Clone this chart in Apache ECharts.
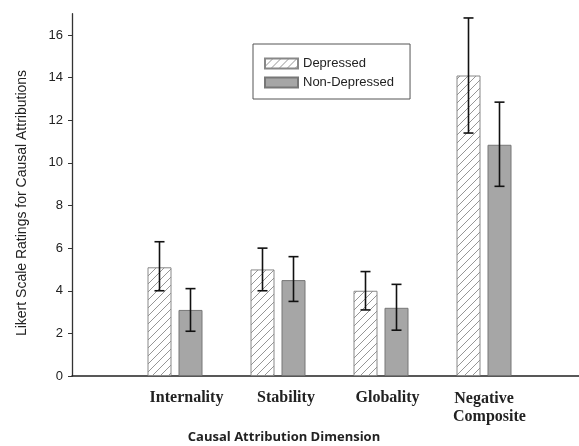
<!DOCTYPE html>
<html><head><meta charset="utf-8">
<script src="https://cdn.jsdelivr.net/npm/echarts@6/dist/echarts.min.js"></script>
<style>html,body{margin:0;padding:0;background:#fff}#c{width:579px;height:446px}</style>
</head><body><div id="c"></div>
<script>
var categories = ['Internality', 'Stability', 'Globality', 'Negative\nComposite'];
var depressed = [5.1, 5.0, 4.0, 14.1];
var depressedHigh = [6.3, 6.0, 4.9, 16.8];
var depressedLow = [4.0, 4.0, 3.1, 11.4];
var nonDepressed = [3.1, 4.5, 3.2, 10.85];
var nonDepressedHigh = [4.1, 5.6, 4.3, 12.85];
var nonDepressedLow = [2.1, 3.5, 2.15, 8.9];
var yTicks = [0, 2, 4, 6, 8, 10, 12, 14, 16];

var BAR_W = 24, GAP = 7;
var slots = [''].concat(categories).concat(['']);
function pad(arr) { return [null].concat(arr).concat([null]); }

// hatch pattern
var pc = document.createElement('canvas');
pc.width = 8; pc.height = 8;
var ctx = pc.getContext('2d');
ctx.fillStyle = '#fff'; ctx.fillRect(0, 0, 8, 8);
ctx.strokeStyle = '#8a8a8a'; ctx.lineWidth = 0.9;
ctx.beginPath();
ctx.moveTo(0, 8); ctx.lineTo(8, 0);
ctx.moveTo(-4, 4); ctx.lineTo(4, -4);
ctx.moveTo(4, 12); ctx.lineTo(12, 4);
ctx.stroke();

function errData(lo, hi) {
  return lo.map(function (v, i) { return [i + 1, v, hi[i]]; });
}
function errSeries(lo, hi, off) {
  return {
    type: 'custom', silent: true, z: 5,
    encode: { x: 0, y: [1, 2] },
    data: errData(lo, hi),
    renderItem: function (params, api) {
      var a = api.coord([api.value(0), api.value(1)]);
      var b = api.coord([api.value(0), api.value(2)]);
      var x = a[0] + off, cw = 5;
      var st = { stroke: '#111', lineWidth: 1.6 };
      return { type: 'group', children: [
        { type: 'line', shape: { x1: x, y1: a[1], x2: x, y2: b[1] }, style: st },
        { type: 'line', shape: { x1: x - cw, y1: a[1], x2: x + cw, y2: a[1] }, style: st },
        { type: 'line', shape: { x1: x - cw, y1: b[1], x2: x + cw, y2: b[1] }, style: st }
      ]};
    }
  };
}
var off = (BAR_W + GAP) / 2;
var labelPad = { 'Internality': 'a', 'Stability': 'b', 'Globality': 'c' };
var serifBold = { fontFamily: 'Liberation Serif', fontWeight: 'bold', fontSize: 16, color: '#222' };
function rs(p, extra) { return Object.assign({ padding: p }, serifBold, extra || {}); }

var chart = echarts.init(document.getElementById('c'));
chart.setOption({
  animation: false,
  grid: { left: 72, width: 515, top: 13.7, bottom: 70, outerBoundsMode: 'none', containLabel: false },
  legend: {
    orient: 'vertical', left: 253, top: 44,
    padding: [13, 16, 10, 11], itemGap: 6,
    itemWidth: 33, itemHeight: 10,
    borderColor: '#555', borderWidth: 1,
    icon: 'rect',
    textStyle: { fontFamily: 'Liberation Sans, Arial', fontSize: 13, color: '#222' },
    data: ['Depressed', 'Non-Depressed']
  },
  xAxis: {
    type: 'category', boundaryGap: false, data: slots,
    axisTick: { show: false },
    axisLine: { lineStyle: { color: '#222', width: 1.5 } },
    axisLabel: {
      interval: 0, margin: 14, color: '#222',
      fontFamily: 'Liberation Serif', fontWeight: 'bold', fontSize: 16,
      formatter: function (v) {
        if (!v) return '';
        if (v.indexOf('\n') >= 0) {
          var p = v.split('\n');
          return '{n|' + p[0] + '}\n{m|' + p[1] + '}';
        }
        return '{' + labelPad[v] + '|' + v + '}';
      },
      rich: {
        a: rs([0, 0, 0, 23]),
        b: rs([0, 0, 0, 16]),
        c: rs([0, 0, 0, 13]),
        n: rs([0, 0, 0, 0], { lineHeight: 18 }),
        m: rs([0, 0, 0, 11], { lineHeight: 18 })
      }
    }
  },
  yAxis: {
    type: 'value', min: 0, max: 17,
    splitLine: { show: false },
    axisLine: { show: true, lineStyle: { color: '#333', width: 1.3 } },
    axisTick: { show: true, length: 4, customValues: yTicks, lineStyle: { color: '#333' } },
    axisLabel: { customValues: yTicks, margin: 9, color: '#222', fontFamily: 'Liberation Sans, Arial', fontSize: 13 }
  },
  graphic: [
    { type: 'text', x: 22, y: 203, rotation: Math.PI / 2,
      style: { text: 'Likert Scale Ratings for Causal Attributions', fill: '#222',
        font: '14px "Liberation Sans", Arial', textAlign: 'center', textVerticalAlign: 'middle' } },
    { type: 'text', x: 284, y: 437,
      style: { text: 'Causal Attribution Dimension', fill: '#222',
        font: 'bold 13px "Open Sans"', textAlign: 'center', textVerticalAlign: 'middle' } }
  ],
  series: [
    { name: 'Depressed', type: 'bar', barWidth: BAR_W, barGap: (GAP / BAR_W * 100) + '%',
      data: pad(depressed),
      itemStyle: { color: { image: pc, repeat: 'repeat' }, borderColor: '#888', borderWidth: 1 } },
    { name: 'Non-Depressed', type: 'bar', barWidth: BAR_W,
      data: pad(nonDepressed),
      itemStyle: { color: '#a6a6a6', borderColor: '#777', borderWidth: 1 } },
    errSeries(depressedLow, depressedHigh, -off),
    errSeries(nonDepressedLow, nonDepressedHigh, off)
  ]
});
</script></body></html>
